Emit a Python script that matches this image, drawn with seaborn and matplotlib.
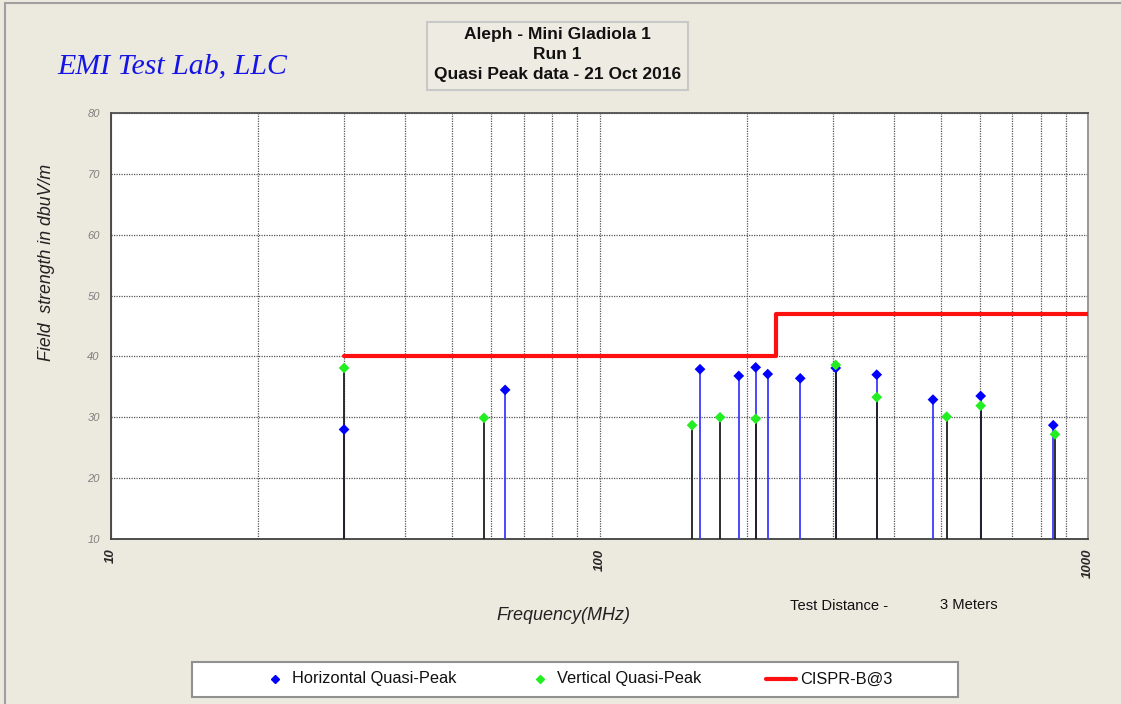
import matplotlib
matplotlib.use("Agg")
import matplotlib.pyplot as plt
from matplotlib.patches import Rectangle
from matplotlib.lines import Line2D
from matplotlib.ticker import MultipleLocator, FixedLocator, LogLocator, NullFormatter
import seaborn as sns
import pandas as pd

# ---- data ----
freq_h = [30.0, 64.1, 160.6, 192.8, 208.8, 221.0, 257.6, 304.5, 369.4, 481.6, 603.0, 849.0]
val_h = [28.0, 34.5, 37.9, 36.8, 38.2, 37.1, 36.4, 38.1, 37.0, 32.9, 33.5, 28.7]
freq_v = [30.0, 58.0, 154.7, 176.5, 208.8, 304.5, 369.4, 513.6, 603.0, 856.0]
val_v = [38.1, 29.9, 28.7, 30.0, 29.75, 38.6, 33.3, 30.1, 31.9, 27.2]
freq_lim = [30, 230, 230, 1000]
val_lim = [40, 40, 47, 47]
x_ticks = [10, 100, 1000]
x_ticklabels = ["10", "100", "1000"]
y_ticks = [10, 20, 30, 40, 50, 60, 70, 80]

title_lines = ["Aleph - Mini Gladiola 1", "Run 1", "Quasi Peak data - 21 Oct 2016"]
legend_labels = ["Horizontal Quasi-Peak", "Vertical Quasi-Peak", "CISPR-B@3"]

sns.set_style("white")
plt.rcParams["font.family"] = ["Liberation Sans", "DejaVu Sans"]

BG = "#ece9df"
W, H = 1121, 704
fig = plt.figure(figsize=(W / 100, H / 100), dpi=100, facecolor=BG)
ax = fig.add_axes([111 / W, 1 - 539 / H, (1088 - 111) / W, (539 - 113) / H])
ax.set_facecolor("white")

df_h = pd.DataFrame({"f": freq_h, "v": val_h})
df_v = pd.DataFrame({"f": freq_v, "v": val_v})
df_l = pd.DataFrame({"f": freq_lim, "v": val_lim})

# stems
ax.vlines(df_h["f"], 10, df_h["v"], color="#3a3aff", lw=1.3, zorder=3)
ax.vlines(df_v["f"], 10, df_v["v"], color="#1e1e1e", lw=1.3, zorder=4)

# markers
sns.scatterplot(data=df_h, x="f", y="v", marker="D", color="#0000ff", s=30,
                edgecolor="none", ax=ax, zorder=5)
sns.scatterplot(data=df_v, x="f", y="v", marker="D", color="#22ee22", s=30,
                edgecolor="none", ax=ax, zorder=6)

# limit line
sns.lineplot(data=df_l, x="f", y="v", sort=False, estimator=None, color="#ff1010",
             lw=3, ax=ax, zorder=7)

ax.set_xscale("log")
ax.set_xlim(10, 1000)
ax.set_ylim(10, 80)

ax.xaxis.set_major_locator(FixedLocator(x_ticks))
ax.set_xticklabels(x_ticklabels)
ax.xaxis.set_minor_locator(LogLocator(base=10, subs=range(2, 10)))
ax.xaxis.set_minor_formatter(NullFormatter())
ax.set_yticks(y_ticks)
ax.yaxis.set_minor_locator(MultipleLocator(2))

grid_kw = dict(color="#555555", linestyle=(0, (1, 1)), linewidth=0.9)
ax.grid(True, which="major", axis="both", **grid_kw)
ax.grid(True, which="minor", axis="x", **grid_kw)
ax.set_axisbelow(True)

ax.tick_params(axis="x", which="major", direction="out", length=4, width=1,
               color="#404040", pad=3, labelsize=9.5, labelrotation=90)
ax.tick_params(axis="x", which="minor", length=0)
ax.tick_params(axis="y", which="major", direction="in", length=5, width=1,
               color="#404040", pad=8, labelsize=8, labelcolor="#808080")
ax.tick_params(axis="y", which="minor", direction="in", length=3, width=0.8,
               color="#404040")
for lab in ax.get_xticklabels():
    lab.set_fontstyle("italic")
    lab.set_fontweight("bold")
    lab.set_va("top")
for lab in ax.get_yticklabels():
    lab.set_fontstyle("italic")

for side, col in [("left", "#404040"), ("bottom", "#404040"),
                  ("top", "#505050"), ("right", "#909090")]:
    ax.spines[side].set_color(col)
    ax.spines[side].set_linewidth(1.3)
    ax.spines[side].set_visible(True)

ax.set_xlabel("")
ax.set_ylabel("")

# outer frame
fig.add_artist(Rectangle((5 / W, -0.05), 1.2, 1.05 - 3 / H, transform=fig.transFigure,
                         fill=False, edgecolor="#a0a0a0", lw=1.5))

# logo
fig.text(172 / W, 1 - 66 / H, "EMI Test Lab, LLC", family=["Liberation Serif", "DejaVu Serif"],
         style="italic", fontsize=21.5, color="#1414e6", ha="center", va="center")

# title box
fig.add_artist(Rectangle((427 / W, 1 - 90 / H), 261 / W, 68 / H, transform=fig.transFigure,
                         facecolor="#eeebe3", edgecolor="#c8c8c8", lw=1.5))
for yy, t in zip([35, 54.5, 74], title_lines):
    fig.text(557.5 / W, 1 - yy / H, t, fontsize=12.5, fontweight="bold",
             ha="center", va="center", color="#111111")

# axis labels
fig.text(47 / W, 1 - 262 / H, "Field  strength in dbuV/m", rotation=90, style="italic",
         fontsize=12.8, ha="center", va="center", color="#222222")
fig.text(563 / W, 1 - 615 / H, "Frequency(MHz)", style="italic", fontsize=13,
         ha="center", va="center", color="#222222")
fig.text(790 / W, 1 - 606 / H, "Test Distance -", fontsize=10.6, ha="left", va="center",
         color="#111111")
fig.text(940 / W, 1 - 605 / H, "3 Meters", fontsize=10.6, ha="left", va="center",
         color="#111111")

# legend
fig.add_artist(Rectangle((192 / W, 1 - 697 / H), 766 / W, 35 / H, transform=fig.transFigure,
                         facecolor="white", edgecolor="#909090", lw=1.5))
ly = 1 - 679 / H
fig.add_artist(Line2D([275 / W], [ly], transform=fig.transFigure, marker="D",
                      markersize=4.5, color="#0000ff", lw=0))
fig.text(292 / W, ly, legend_labels[0], fontsize=11.8, ha="left", va="center", color="#111111")
fig.add_artist(Line2D([540 / W], [ly], transform=fig.transFigure, marker="D",
                      markersize=4.5, color="#22ee22", lw=0))
fig.text(557 / W, ly, legend_labels[1], fontsize=11.8, ha="left", va="center", color="#111111")
fig.add_artist(Line2D([766 / W, 796 / W], [ly, ly], transform=fig.transFigure,
                      color="#ff1010", lw=3))
fig.text(800 / W, ly, legend_labels[2], fontsize=11.8, ha="left", va="center", color="#111111")

fig.savefig("out.png", dpi=100, facecolor=BG)
